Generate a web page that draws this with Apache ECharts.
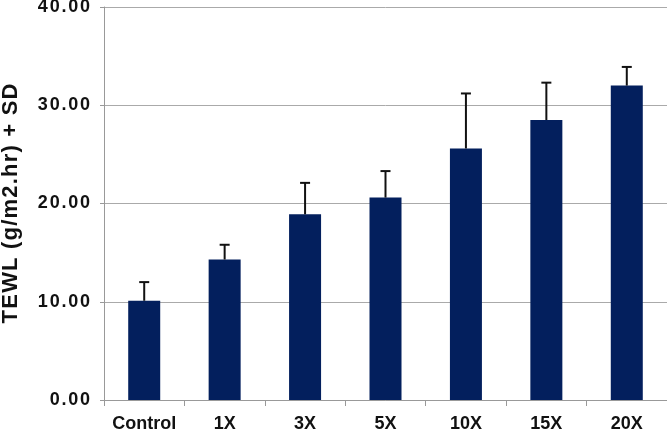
<!DOCTYPE html>
<html>
<head>
<meta charset="utf-8">
<script src="https://cdn.jsdelivr.net/npm/echarts@6/dist/echarts.min.js"></script>
<style>html,body{margin:0;padding:0;background:#fff}#c{width:667px;height:432px}</style>
</head>
<body>
<div id="c"></div>
<script>
var categories = ['Control', '1X', '3X', '5X', '10X', '15X', '20X'];
var means = [10.1, 14.3, 18.9, 20.6, 25.6, 28.5, 32.0];
var sds = [1.9, 1.5, 3.2, 2.7, 5.6, 3.8, 1.9];
var yTicks = [0, 10, 20, 30, 40];
var yTitle = 'TEWL (g/m2.hr) + SD';

var chart = echarts.init(document.getElementById('c'), null, {renderer: 'canvas'});
var font = 'Liberation Sans, Arial, sans-serif';
var errData = means.map(function (m, i) { return [i, m, m + sds[i]]; });

function spaced(str) {
  return str.split('').map(function (ch) { return '{c|' + ch + '}'; }).join('');
}

chart.setOption({
  animation: false,
  backgroundColor: '#fff',
  grid: {left: 104, right: 0, top: 7, bottom: 32, containLabel: false, outerBoundsMode: 'none'},
  xAxis: {
    type: 'category',
    data: categories,
    boundaryGap: true,
    axisLine: {lineStyle: {color: '#999', width: 1}},
    axisTick: {show: true, length: 6, alignWithLabel: false, lineStyle: {color: '#999'}},
    axisLabel: {interval: 0, color: '#111', fontFamily: font, fontWeight: 'bold', fontSize: 18, margin: 15}
  },
  yAxis: {
    type: 'value',
    min: yTicks[0],
    max: yTicks[yTicks.length - 1],
    interval: 10,
    name: spaced(yTitle),
    nameLocation: 'middle',
    nameGap: 82,
    nameTextStyle: {
      color: '#111', fontFamily: font, fontWeight: 'bold', fontSize: 22,
      rich: {c: {color: '#111', fontFamily: font, fontWeight: 'bold', fontSize: 22, padding: [0, 0.6, 0, 0.6]}}
    },
    axisLine: {show: true, lineStyle: {color: '#999', width: 1}},
    axisTick: {show: true, length: 4, lineStyle: {color: '#999'}},
    splitLine: {show: true, lineStyle: {color: '#aaa', width: 1}},
    axisLabel: {
      color: '#111', fontFamily: font, fontWeight: 'bold', fontSize: 18, margin: 13,
      formatter: function (v) { return spaced(v.toFixed(2)); },
      rich: {c: {color: '#111', fontFamily: font, fontWeight: 'bold', fontSize: 18, padding: [0, 0.9, 0, 0.9]}}
    }
  },
  series: [
    {
      type: 'bar',
      data: means,
      barWidth: 32,
      itemStyle: {color: '#031f5d'},
      z: 2
    },
    {
      type: 'custom',
      data: errData,
      z: 3,
      renderItem: function (params, api) {
        var x = api.value(0);
        var lo = api.coord([x, api.value(1)]);
        var hi = api.coord([x, api.value(2)]);
        var half = 5;
        var style = {stroke: '#111', lineWidth: 2};
        return {
          type: 'group',
          children: [
            {type: 'line', shape: {x1: lo[0], y1: lo[1], x2: hi[0], y2: hi[1]}, style: style},
            {type: 'line', shape: {x1: hi[0] - half, y1: hi[1], x2: hi[0] + half, y2: hi[1]}, style: style}
          ]
        };
      }
    }
  ]
});
</script>
</body>
</html>
